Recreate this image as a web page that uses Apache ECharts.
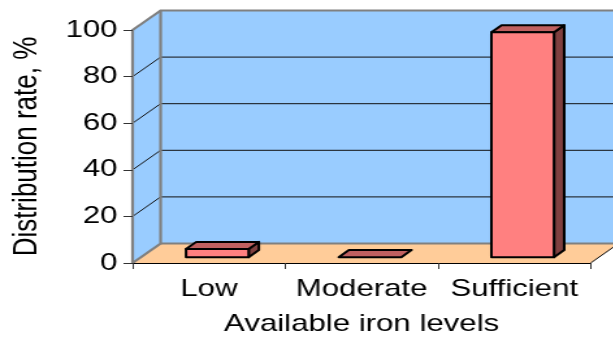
<!DOCTYPE html>
<html>
<head>
<meta charset="utf-8">
<script src="https://cdn.jsdelivr.net/npm/echarts@6/dist/echarts.min.js"></script>
<style>
  html, body { margin: 0; padding: 0; background: #fff; overflow: hidden; }
  #chart { height: 341px; transform-origin: 0 0; }
</style>
</head>
<body>
<div id="chart"></div>
<script>
// Distribution rate by available iron level
const categories = ['Low', 'Moderate', 'Sufficient'];
const rates = [3.5, 0, 96.5];
const yTicks = [0, 20, 40, 60, 80, 100];

// The drawing is laid out narrow and widened horizontally as a whole
const STRETCH = 1.3;
const W = 613 / STRETCH;
const sx = v => v / STRETCH;

const el = document.getElementById('chart');
el.style.width = W + 'px';
el.style.transform = 'scaleX(' + STRETCH + ')';

const FONT = 'Liberation Sans, Arial, sans-serif';
const DX = sx(28), DY = -19.5;             // depth of the floor / side wall
const BAR_D0 = 0.3, BAR_D1 = 0.665;        // bar front / back depth fraction
const BAR_HALF = 0.205;                    // half bar width, fraction of band

const WALL = '#99CCFF', FLOOR = '#FFCC99', EDGE = '#808080', GRID = '#111';

function renderWalls(params, api) {
  const cs = params.coordSys;
  const x0 = cs.x, x1 = cs.x + cs.width;
  const yB = api.coord([0, 0])[1];
  const yT = api.coord([0, yTicks[yTicks.length - 1]])[1];
  const ch = [];
  // back wall
  ch.push({ type: 'polygon', shape: { points: [[x0 + DX, yT + DY], [x1 + DX, yT + DY], [x1 + DX, yB + DY], [x0 + DX, yB + DY]] },
            style: { fill: WALL } });
  // left side wall
  ch.push({ type: 'polygon', shape: { points: [[x0, yT], [x0 + DX, yT + DY], [x0 + DX, yB + DY], [x0, yB]] },
            style: { fill: WALL } });
  // floor
  ch.push({ type: 'polygon', shape: { points: [[x0, yB], [x1, yB], [x1 + DX, yB + DY], [x0 + DX, yB + DY]] },
            style: { fill: FLOOR } });
  // gridlines on the side and back walls
  yTicks.forEach(v => {
    if (v === 0 || v === yTicks[yTicks.length - 1]) return;
    const y = api.coord([0, v])[1];
    ch.push({ type: 'line', shape: { x1: x0, y1: y, x2: x0 + DX, y2: y + DY }, style: { stroke: GRID, lineWidth: 1 } });
    ch.push({ type: 'line', shape: { x1: x0 + DX, y1: y + DY, x2: x1 + DX, y2: y + DY }, style: { stroke: GRID, lineWidth: 1 } });
  });
  // wall edges
  const edge = { stroke: EDGE, lineWidth: 2.2, fill: null };
  ch.push({ type: 'polyline', shape: { points: [[x0, yT], [x0 + DX, yT + DY], [x1 + DX, yT + DY]] }, style: edge });
  ch.push({ type: 'polyline', shape: { points: [[x0, yB], [x0 + DX, yB + DY], [x0 + DX, yT + DY]] }, style: edge });
  ch.push({ type: 'line', shape: { x1: x0 + DX, y1: yB + DY, x2: x1 + DX, y2: yB + DY }, style: edge });
  // right edge of the floor
  ch.push({ type: 'line', shape: { x1: x1, y1: yB, x2: x1 + DX, y2: yB + DY }, style: { stroke: '#000', lineWidth: 1 } });
  return { type: 'group', children: ch };
}

function renderBar(params, api) {
  const idx = api.value(0), val = api.value(1);
  const base = api.coord([idx, 0]);
  const top = api.coord([idx, val]);
  const hw = api.size([1, 0])[0] * BAR_HALF;
  const fx0 = base[0] - hw + BAR_D0 * DX, fx1 = base[0] + hw + BAR_D0 * DX;
  const fyB = base[1] + BAR_D0 * DY, fyT = top[1] + BAR_D0 * DY;
  const ddx = (BAR_D1 - BAR_D0) * DX, ddy = (BAR_D1 - BAR_D0) * DY;
  const line = { stroke: '#000', lineWidth: 2, lineJoin: 'round' };
  const ch = [];
  if (fyB - fyT > 0.5) {
    ch.push({ type: 'polygon', shape: { points: [[fx1, fyT], [fx1 + ddx, fyT + ddy], [fx1 + ddx, fyB + ddy], [fx1, fyB]] },
              style: Object.assign({ fill: '#804040' }, line) });
  }
  ch.push({ type: 'polygon', shape: { points: [[fx0, fyT], [fx1, fyT], [fx1 + ddx, fyT + ddy], [fx0 + ddx, fyT + ddy]] },
            style: Object.assign({ fill: '#C06060' }, line) });
  if (fyB - fyT > 0.5) {
    ch.push({ type: 'rect', shape: { x: fx0, y: fyT, width: fx1 - fx0, height: fyB - fyT },
              style: Object.assign({ fill: '#FF8080' }, line) });
  }
  return { type: 'group', children: ch };
}

const chart = echarts.init(el, null, { renderer: 'canvas' });
chart.setOption({
  animation: false,
  backgroundColor: '#fff',
  grid: { left: sx(128), right: W - sx(590), top: 30, bottom: 341 - 265, containLabel: false },
  xAxis: {
    type: 'category',
    data: categories,
    z: 10,
    axisLine: { lineStyle: { color: '#000', width: 1 } },
    axisTick: { show: true, length: 6, lineStyle: { color: '#333', width: 1 } },
    axisLabel: { color: '#000', fontSize: 24, fontFamily: FONT, margin: 14, interval: 0, hideOverlap: false },
    name: 'Available iron levels',
    nameLocation: 'middle',
    nameGap: 49,
    nameTextStyle: { color: '#000', fontSize: 24, fontFamily: FONT }
  },
  yAxis: {
    type: 'value',
    min: yTicks[0],
    max: yTicks[yTicks.length - 1],
    interval: yTicks[1] - yTicks[0],
    z: 10,
    splitLine: { show: false },
    axisLine: { show: true, lineStyle: { color: EDGE, width: 2.2 } },
    axisTick: { show: true, length: 7, lineStyle: { color: '#333', width: 1 } },
    axisLabel: { color: '#000', fontSize: 24, fontFamily: FONT, margin: sx(15) },
    name: 'Distribution rate, %',
    nameLocation: 'middle',
    nameRotate: 90,
    nameGap: 68,
    nameTextStyle: { color: '#000', fontSize: 26, fontFamily: FONT }
  },
  series: [
    { type: 'custom', name: 'walls', z: 1, silent: true, data: [[0, 0]], renderItem: renderWalls },
    { type: 'custom', name: 'Distribution rate', z: 3,
      encode: { x: 0, y: 1 },
      data: categories.map((c, i) => [i, rates[i]]),
      renderItem: renderBar }
  ]
});
</script>
</body>
</html>
